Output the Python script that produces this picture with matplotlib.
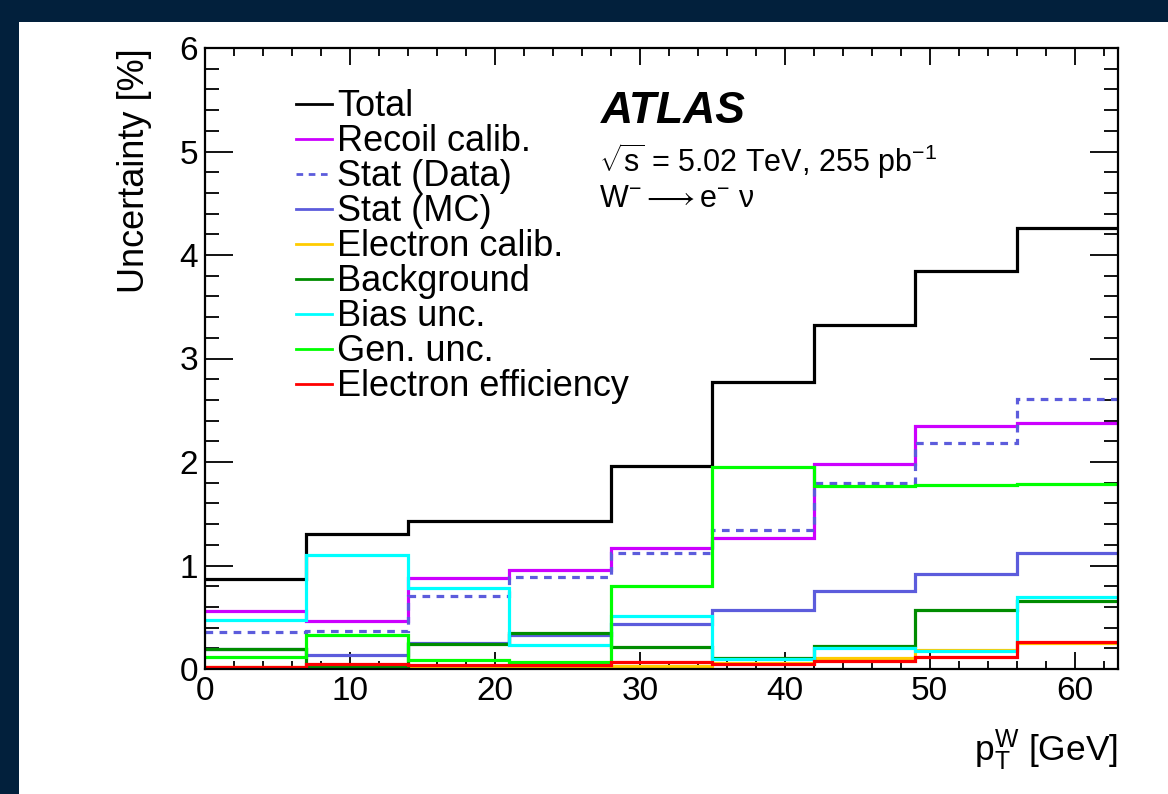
import matplotlib
matplotlib.use("Agg")
import matplotlib.pyplot as plt
from matplotlib.patches import Rectangle
from matplotlib.ticker import MultipleLocator

plt.rcParams['font.family'] = ['Liberation Sans', 'DejaVu Sans']
plt.rcParams['mathtext.fontset'] = 'custom'
plt.rcParams['mathtext.rm'] = 'Liberation Sans'
plt.rcParams['mathtext.it'] = 'Liberation Sans:italic'
plt.rcParams['mathtext.bf'] = 'Liberation Sans:bold'

# pT(W) bin edges [GeV] and relative uncertainties [%] per bin
edges = [0, 7, 14, 21, 28, 35, 42, 49, 56, 63]
total = [0.87, 1.30, 1.43, 1.43, 1.96, 2.77, 3.32, 3.85, 4.26]
recoil_calib = [0.56, 0.46, 0.88, 0.96, 1.17, 1.27, 1.98, 2.35, 2.38]
stat_data = [0.36, 0.37, 0.71, 0.89, 1.12, 1.34, 1.80, 2.18, 2.61]
stat_mc = [0.19, 0.14, 0.25, 0.33, 0.43, 0.57, 0.75, 0.92, 1.12]
electron_calib = [0.02, 0.02, 0.02, 0.03, 0.03, 0.06, 0.11, 0.18, 0.25]
background = [0.19, 0.03, 0.24, 0.35, 0.21, 0.11, 0.22, 0.57, 0.66]
bias_unc = [0.47, 1.10, 0.78, 0.23, 0.51, 0.10, 0.20, 0.17, 0.70]
gen_unc = [0.12, 0.33, 0.09, 0.07, 0.80, 1.95, 1.77, 1.78, 1.79]
electron_eff = [0.02, 0.05, 0.04, 0.04, 0.07, 0.05, 0.08, 0.12, 0.26]

labels = ["Total", "Recoil calib.", "Stat (Data)", "Stat (MC)", "Electron calib.",
          "Background", "Bias unc.", "Gen. unc.", "Electron efficiency"]
series = [total, recoil_calib, stat_data, stat_mc, electron_calib,
          background, bias_unc, gen_unc, electron_eff]
colors = ["#000000", "#cc00ff", "#5c5cdc", "#5c5cdc", "#ffcc00",
          "#008c00", "#00ffff", "#00ff00", "#ff0000"]
styles = ["-", "-", (0, (2.4, 2.0)), "-", "-", "-", "-", "-", "-"]

W, H = 1168, 794
fig = plt.figure(figsize=(W / 100, H / 100), dpi=100, facecolor="#02203c")
fig.patches.append(Rectangle((19 / W, 0), 1 - 19 / W, 1 - 22 / H,
                             transform=fig.transFigure, facecolor="white",
                             edgecolor="none", zorder=-10))

ax = fig.add_axes([205 / W, 1 - 669 / H, (1118 - 205) / W, (669 - 48) / H])
ax.set_facecolor("white")

for i, (vals, lab, col, ls) in enumerate(zip(series, labels, colors, styles)):
    ax.stairs(vals, edges, baseline=None, color=col, linestyle=ls,
              linewidth=2.3, label=lab, zorder=2 + i)

ax.set_xlim(0, 63)
ax.set_ylim(0, 6)

for sp in ax.spines.values():
    sp.set_linewidth(1.6)
    sp.set_zorder(20)

ax.xaxis.set_major_locator(MultipleLocator(10))
ax.xaxis.set_minor_locator(MultipleLocator(2))
ax.yaxis.set_major_locator(MultipleLocator(1))
ax.yaxis.set_minor_locator(MultipleLocator(0.2))
ax.tick_params(axis='both', which='both', direction='in', top=True, right=True,
               width=1.3, labelsize=24)
ax.tick_params(axis='x', which='major', length=12, pad=5)
ax.tick_params(axis='x', which='minor', length=6)
ax.tick_params(axis='y', which='major', length=20, pad=5)
ax.tick_params(axis='y', which='minor', length=10)

ax.set_ylabel("Uncertainty [%]", fontsize=26, loc='top')
ax.yaxis.set_label_coords(-0.058, 1.0)
fig.text(1118 / W, 1 - 750 / H, r"$\mathregular{p_{T}^{W}}$ [GeV]",
         ha='right', va='center', fontsize=25.5)

ax.legend(handles=[plt.Line2D([], [], color=c, linestyle=s, linewidth=2.0)
                   for c, s in zip(colors, styles)],
          labels=labels, loc='upper left', bbox_to_anchor=(0.1, 0.9335),
          frameon=False, fontsize=26, handlelength=1.0, handletextpad=0.14,
          labelspacing=0.0, borderaxespad=0.0, borderpad=0.0)

ax.text(0.434, 0.93, "ATLAS", transform=ax.transAxes, fontsize=32,
        fontweight='bold', fontstyle='italic', va='top', ha='left')
ax.text(0.432, 0.818, r"$\sqrt{\mathrm{s}}$ = 5.02 TeV, 255 pb$^{-1}$",
        transform=ax.transAxes, fontsize=22, va='center', ha='left')
ax.text(0.432, 0.757, r"W$^{-}$$\longrightarrow$e$^{-}$ ν",
        transform=ax.transAxes, fontsize=22, va='center', ha='left')

fig.savefig("out.png", dpi=100, facecolor=fig.get_facecolor())
